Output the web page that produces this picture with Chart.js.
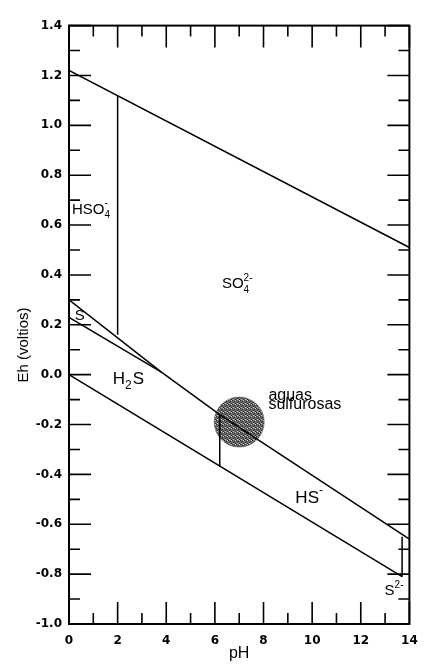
<!DOCTYPE html>
<html>
<head>
<meta charset="utf-8">
<script src="https://cdn.jsdelivr.net/npm/chart.js@4.4.1/dist/chart.umd.min.js"></script>
<style>
  html, body { margin: 0; padding: 0; background: #fff; }
</style>
</head>
<body>
<canvas id="chart" width="435" height="665"></canvas>
<script>
// fronteras del diagrama Eh-pH del azufre (pH, Eh en voltios)
var lineaO2 = [[0, 1.22], [14, 0.51]];
var lineaHSO4 = [[2, 0.16], [2, 1.12]];
var lineaSO4 = [[0, 0.30], [3.8, 0.01], [6.2, -0.16], [14, -0.66]];
var lineaS = [[0, 0.23], [3.8, 0.01]];
var lineaH2 = [[0, 0.0], [13.7, -0.81]];
var lineaH2S_HS = [[6.2, -0.16], [6.2, -0.37]];
var lineaHS_S2 = [[13.7, -0.65], [13.7, -0.81]];
var aguasSulfurosas = [[7.0, -0.19]];

var ticksPH = [0, 2, 4, 6, 8, 10, 12, 14];
var ticksEh = [-1.0, -0.8, -0.6, -0.4, -0.2, 0.0, 0.2, 0.4, 0.6, 0.8, 1.0, 1.2, 1.4];

// rotulos de las especies, en coordenadas pH / Eh
var etiquetas = [
    {x: 0.12, y: 0.646, size: 15, partes: [{t: 'HSO'}, {sub: '4', sup: '-'}]},
    {x: 6.29, y: 0.346, size: 15, partes: [{t: 'SO'}, {sub: '4', sup: '2-'}]},
    {x: 0.24, y: 0.220, size: 15, partes: [{t: 'S'}]},
    {x: 1.80, y: -0.037, size: 17, partes: [{t: 'H'}, {sub: '2'}, {t: 'S'}]},
    {x: 8.20, y: -0.100, size: 16, partes: [{t: 'aguas'}]},
    {x: 8.20, y: -0.139, size: 16, partes: [{t: 'sulfurosas'}]},
    {x: 9.31, y: -0.514, size: 17, partes: [{t: 'HS'}, {sup: '-'}]},
    {x: 12.98, y: -0.885, size: 15, partes: [{t: 'S'}, {sup: '2-'}]}
];

function textura() {
    var c = document.createElement('canvas');
    c.width = 4; c.height = 4;
    var g = c.getContext('2d');
    g.fillStyle = '#6c6c6c';
    g.fillRect(0, 0, 4, 4);
    g.fillStyle = '#262626';
    g.fillRect(0, 0, 1, 1); g.fillRect(2, 1, 1, 1); g.fillRect(1, 2, 1, 1); g.fillRect(3, 3, 1, 1);
    g.fillStyle = '#d0d0d0';
    g.fillRect(3, 0, 1, 1); g.fillRect(1, 3, 1, 1);
    return g.createPattern(c, 'repeat');
}

function linea(datos) {
    return {
        data: datos,
        showLine: true,
        borderColor: '#000',
        borderWidth: 1.5,
        pointRadius: 0,
        fill: false,
        order: 1
    };
}

var marcas = {
    id: 'marcas',
    afterDatasetsDraw: function (chart) {
        var ctx = chart.ctx, a = chart.chartArea, sx = chart.scales.x, sy = chart.scales.y;
        ctx.save();
        ctx.strokeStyle = '#000';
        ctx.lineWidth = 1.6;
        ctx.beginPath();
        for (var i = 0; i <= 14; i++) {
            var px = sx.getPixelForValue(i);
            var l = i % 2 === 0 ? 22 : 11;
            ctx.moveTo(px, a.bottom); ctx.lineTo(px, a.bottom - l);
            ctx.moveTo(px, a.top); ctx.lineTo(px, a.top + l);
        }
        for (var j = -10; j <= 14; j++) {
            var py = sy.getPixelForValue(j / 10);
            var m = j % 2 === 0 ? 22 : 11;
            ctx.moveTo(a.left, py); ctx.lineTo(a.left + m, py);
            ctx.moveTo(a.right, py); ctx.lineTo(a.right - m, py);
        }
        ctx.stroke();
        ctx.lineWidth = 2;
        ctx.strokeRect(a.left, a.top, a.right - a.left, a.bottom - a.top);

        // rotulos
        ctx.fillStyle = '#000';
        ctx.textBaseline = 'alphabetic';
        ctx.textAlign = 'left';
        etiquetas.forEach(function (e) {
            var x = sx.getPixelForValue(e.x), y = sy.getPixelForValue(e.y);
            var chico = Math.round(e.size * 0.68);
            e.partes.forEach(function (p) {
                if (p.t) {
                    ctx.font = e.size + 'px "Liberation Sans", Arial, sans-serif';
                    ctx.fillText(p.t, x, y);
                    x += ctx.measureText(p.t).width;
                } else {
                    ctx.font = chico + 'px "Liberation Sans", Arial, sans-serif';
                    var w = 0;
                    if (p.sub) { ctx.fillText(p.sub, x, y + e.size * 0.3); w = ctx.measureText(p.sub).width; }
                    if (p.sup) { ctx.fillText(p.sup, x, y - e.size * 0.5); w = Math.max(w, ctx.measureText(p.sup).width); }
                    x += w + 1;
                }
            });
        });

        // titulo del eje Eh, algo desplazado hacia abajo como en el original
        ctx.font = '15px "Liberation Sans", Arial, sans-serif';
        ctx.textAlign = 'center';
        ctx.textBaseline = 'middle';
        ctx.translate(24, 345);
        ctx.rotate(-Math.PI / 2);
        ctx.fillText('Eh (voltios)', 0, 0);
        ctx.restore();
    }
};

var fuenteTicks = {family: '"DejaVu Sans", sans-serif', size: 12, weight: 'bold'};

new Chart(document.getElementById('chart'), {
    type: 'scatter',
    data: {
        datasets: [
            linea(lineaO2),
            linea(lineaHSO4),
            linea(lineaSO4),
            linea(lineaS),
            linea(lineaH2),
            linea(lineaH2S_HS),
            linea(lineaHS_S2),
            {
                data: aguasSulfurosas,
                pointRadius: 25,
                pointBackgroundColor: textura(),
                pointBorderColor: '#555',
                pointBorderWidth: 0.6,
                order: 10
            }
        ]
    },
    options: {
        responsive: false,
        animation: false,
        events: [],
        layout: {padding: {left: 0, right: 23, top: 16, bottom: 0}},
        plugins: {legend: {display: false}, tooltip: {enabled: false}},
        scales: {
            x: {
                type: 'linear',
                min: 0, max: 14,
                afterBuildTicks: function (s) { s.ticks = ticksPH.map(function (v) { return {value: v}; }); },
                ticks: {color: '#000', font: fuenteTicks, padding: 10, maxRotation: 0},
                grid: {display: false, drawTicks: false},
                border: {display: false},
                title: {display: true, text: 'pH', color: '#000', padding: {top: 0, bottom: 2},
                    font: {family: '"Liberation Sans", Arial, sans-serif', size: 16}},
                afterFit: function (s) { s.height = 41; }
            },
            y: {
                type: 'linear',
                min: -1.0, max: 1.4,
                afterBuildTicks: function (s) { s.ticks = ticksEh.map(function (v) { return {value: v}; }); },
                ticks: {
                    color: '#000', font: fuenteTicks, padding: 7,
                    callback: function (v) { return Math.abs(v) < 1e-9 ? '0.0' : Number(v).toFixed(1); }
                },
                grid: {display: false, drawTicks: false},
                border: {display: false},
                afterFit: function (s) { s.width = 69; }
            }
        }
    },
    plugins: [marcas]
});
</script>
</body>
</html>
